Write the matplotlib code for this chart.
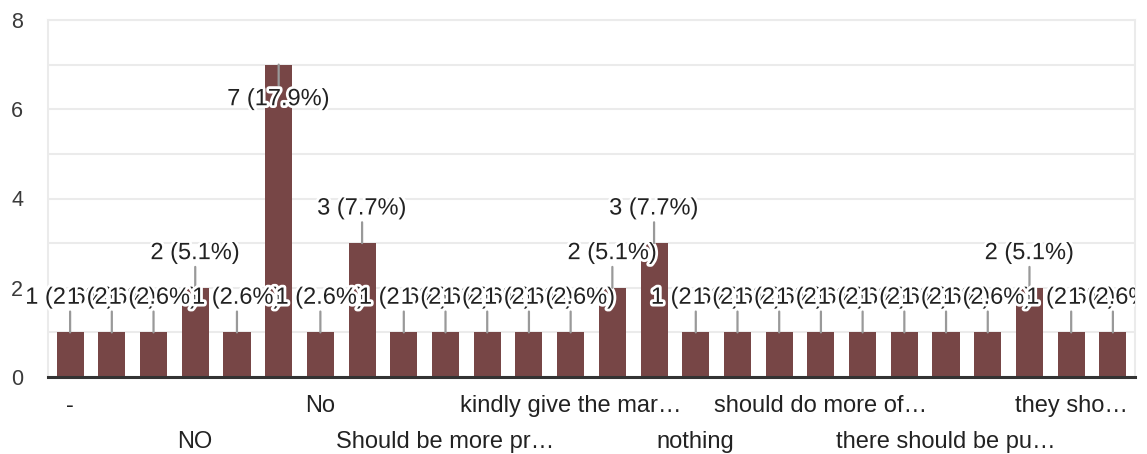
import matplotlib
matplotlib.use("Agg")
import matplotlib.pyplot as plt
import matplotlib.patheffects as pe
from matplotlib.transforms import Bbox, TransformedBbox
import numpy as np

# responses per answer (26 answers, 39 total)
counts = [1, 1, 1, 2, 1, 7, 1, 3, 1, 1, 1, 1, 1, 2, 3, 1, 1, 1, 1, 1, 1, 1, 1, 2, 1, 1]
# only every third category label is shown on the axis
shown_labels = ["-", "NO", "No", "Should be more pr\u2026", "kindly give the mar\u2026",
                "nothing", "should do more of\u2026", "there should be pu\u2026", "they sho\u2026"]
yticks = [0, 2, 4, 6, 8]

bar_color = "#774646"
grid_color = "#ebebeb"
text_color = "#222222"

plt.rcParams['font.family'] = ['Liberation Sans', 'DejaVu Sans']

total = sum(counts)
x = np.arange(len(counts))

fig = plt.figure(figsize=(11.47, 4.54), dpi=100)
ax = fig.add_axes([48 / 1147, 1 - 377 / 454, (1135 - 48) / 1147, 357 / 454])

for v in range(0, 9):
    ax.axhline(v, color=grid_color, lw=1.5, zorder=0)

ax.bar(x, counts, width=0.65, color=bar_color, zorder=2)

ax.set_xlim(-0.53, len(counts) - 0.47)
ax.set_ylim(0, 8)
ax.set_yticks(yticks)
ax.set_xticks([])
ax.tick_params(axis='y', length=0, pad=18, labelsize=15.5, labelcolor="#3a3a3a")

for s in ['left', 'right', 'top']:
    ax.spines[s].set_color(grid_color)
    ax.spines[s].set_linewidth(1.5)
ax.spines['bottom'].set_color("#333333")
ax.spines['bottom'].set_linewidth(2.2)
ax.spines['bottom'].set_zorder(3)

# labels get cut at the right edge of the chart area
clip = TransformedBbox(Bbox([[0, 0], [1135 / 1147, 1]]), fig.transFigure)

halo = [pe.withStroke(linewidth=4, foreground="white")]
for i, v in enumerate(counts):
    label = "%d (%.1f%%)" % (v, 100.0 * v / total)
    if v >= 7:
        off, va = -17, 'top'
    else:
        off, va = 17, 'bottom'
    ann = ax.annotate(label, xy=(i, v), xytext=(0, off), textcoords='offset points',
                      ha='center', va=va, fontsize=17, color=text_color, zorder=4,
                      path_effects=halo, annotation_clip=False,
                      arrowprops=dict(arrowstyle='-', color='#999999', lw=1.6,
                                      shrinkA=0, shrinkB=0))
    ann.set_clip_on(True)
    ann.set_clip_box(clip)

trans = ax.get_xaxis_transform()
for k, lab in enumerate(shown_labels):
    pos = k * 3
    yy = -0.081 if k % 2 == 0 else -0.182
    ax.text(pos, yy, lab, transform=trans, ha='center', va='center',
            fontsize=17, color=text_color)

plt.savefig("out.png", dpi=100)
